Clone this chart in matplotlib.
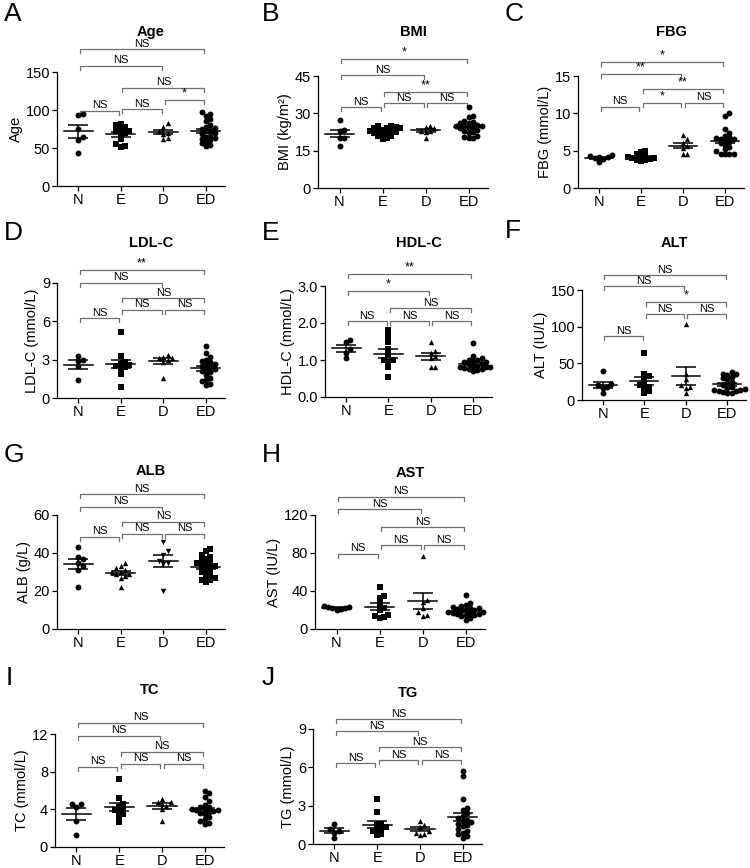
import matplotlib
matplotlib.use("Agg")
import matplotlib.pyplot as plt
import numpy as np

plt.rcParams["font.family"] = ["Liberation Sans", "DejaVu Sans"]

W, H = 750, 868
groups = ["N", "E", "D", "ED"]

# values, one list per group (N, E, D, ED)
age = [[95, 93, 75, 65, 60, 43],
       [82, 80, 78, 75, 73, 72, 70, 68, 62, 55, 52, 51],
       [83, 78, 72, 70, 68, 63, 62],
       [97, 95, 92, 88, 85, 80, 78, 76, 75, 73, 72, 70, 68, 66, 65, 63, 62, 60, 58, 56, 54, 52]]
bmi = [[27.5, 23.5, 23, 20, 20, 17],
       [25, 25, 24.5, 24, 24, 23.5, 23, 23, 22.5, 22, 22, 21.5, 21, 21, 20, 19.5, 23, 24],
       [25, 24.5, 24, 23, 23, 22.5, 20],
       [32.5, 29, 28.5, 27, 26.5, 26, 26, 25.5, 25, 25, 24.5, 24, 24, 23.5, 23, 22.5, 22, 21, 20.5, 20, 20, 25]]
fbg = [[4.4, 4.3, 4.2, 4.1, 4.0, 3.9, 3.5],
       [5.0, 4.8, 4.6, 4.3, 4.2, 4.1, 4.0, 4.0, 3.9, 3.8, 3.7, 3.6],
       [7.1, 6.5, 6.0, 5.6, 5.4, 4.6, 4.5],
       [10.0, 9.6, 7.9, 7.4, 7.0, 6.8, 6.7, 6.6, 6.5, 6.4, 6.2, 6.0, 5.8, 5.5, 5.2, 4.9, 4.6, 4.6, 4.6, 4.6]]
ldl = [[3.3, 3.0, 2.9, 2.5, 1.4],
       [5.2, 3.3, 2.8, 2.7, 2.6, 2.5, 2.4, 2.3, 1.9, 0.9],
       [3.4, 3.2, 3.1, 3.1, 3.0, 2.8, 1.6],
       [4.1, 3.5, 3.2, 3.0, 2.9, 2.8, 2.7, 2.6, 2.5, 2.4, 2.3, 2.2, 2.1, 2.0, 1.8, 1.6, 1.4, 1.3, 1.1, 1.0]]
hdl = [[1.55, 1.5, 1.3, 1.2, 1.05],
       [1.8, 1.65, 1.5, 1.3, 1.15, 1.0, 1.0, 0.95, 0.8, 0.55],
       [1.5, 1.25, 1.2, 1.1, 1.05, 0.8, 0.8],
       [1.45, 1.1, 1.05, 1.0, 1.0, 0.98, 0.95, 0.95, 0.9, 0.88, 0.85, 0.85, 0.8, 0.8, 0.8, 0.78, 0.75, 0.75, 0.72, 0.7]]
alt = [[39, 22, 20, 18, 17, 10],
       [64, 36, 33, 28, 22, 20, 18, 16, 12, 10],
       [103, 35, 28, 20, 18, 17, 10],
       [38, 36, 35, 34, 32, 30, 28, 25, 22, 20, 18, 16, 15, 14, 13, 12, 12, 11, 10, 10]]
alb = [[43, 38, 37, 35, 33, 31, 22],
       [35, 33, 32, 31, 30, 30, 29, 29, 28, 27, 22],
       [46, 41, 39, 36, 35, 34, 20],
       [42, 41, 39, 38, 37, 36, 35, 35, 34, 33, 33, 32, 31, 30, 29, 28, 27, 26, 26, 25]]
ast = [[24, 23, 23, 22, 22, 21, 20],
       [44, 35, 33, 26, 22, 20, 15, 14, 13, 12],
       [77, 31, 28, 22, 18, 15, 14],
       [36, 27, 25, 24, 23, 22, 22, 21, 20, 20, 19, 18, 18, 17, 17, 16, 16, 15, 15, 14, 12, 10]]
tc = [[4.6, 4.6, 4.2, 2.8, 1.3],
      [7.2, 5.2, 4.6, 4.3, 4.0, 3.9, 3.8, 3.5, 3.2, 2.7],
      [5.1, 4.8, 4.8, 4.6, 4.4, 4.0, 2.8],
      [6.0, 5.7, 5.3, 4.9, 4.5, 4.3, 4.2, 4.0, 4.0, 3.9, 3.9, 3.8, 3.7, 3.6, 3.5, 3.2, 3.0, 2.8, 2.6, 2.4]]
tg = [[1.6, 1.2, 1.0, 0.9, 0.5],
      [3.5, 2.5, 1.6, 1.5, 1.3, 1.2, 1.1, 1.0, 0.8, 0.7],
      [1.8, 1.5, 1.3, 1.0, 0.9, 0.8, 0.7],
      [5.7, 5.3, 3.5, 2.8, 2.7, 2.4, 2.2, 2.0, 1.9, 1.8, 1.7, 1.6, 1.5, 1.4, 1.2, 1.0, 0.9, 0.8, 0.6, 0.5]]

# comparisons: N-E, E-D, D-ED, E-ED, N-D, N-ED
pairs = [(0, 1), (1, 2), (2, 3), (1, 3), (0, 2), (0, 3)]
all_ns = ["NS"] * 6
sig_age = ["NS", "NS", "*", "NS", "NS", "NS"]
sig_bmi = ["NS", "NS", "NS", "**", "NS", "*"]
sig_fbg = ["NS", "*", "NS", "**", "**", "*"]
sig_ldl = ["NS", "NS", "NS", "NS", "NS", "**"]
sig_hdl = ["NS", "NS", "NS", "NS", "*", "**"]
sig_alt = ["NS", "NS", "NS", "*", "NS", "NS"]

# panel layout: letter, title, ylabel, data, sig, yticks, markers,
# bracket heights, (spine x px, zero y px, top tick y px, right px)
panels = [
    ("A", "Age", "Age", age, sig_age, [0, 50, 100, 150], "osbo",
     [99, 101, 113, 129, 158, 180], (57, 186, 72, 225)),
    ("B", "BMI", "BMI (kg/m²)", bmi, sig_bmi, [0, 15, 30, 45], "osbo",
     [32.5, 34, 34, 38.5, 45.3, 51.8], (318, 188, 76, 488)),
    ("C", "FBG", "FBG (mmol/L)", fbg, sig_fbg, [0, 5, 10, 15], "osbo",
     [10.9, 11.4, 11.4, 13.2, 15.3, 16.9], (578, 188, 76, 744)),
    ("D", "LDL-C", "LDL-C (mmol/L)", ldl, sig_ldl, [0, 3, 6, 9], "osbo",
     [6.25, 6.9, 6.9, 7.8, 9.0, 10.0], (57, 398, 283, 225)),
    ("E", "HDL-C", "HDL-C (mmol/L)", hdl, sig_hdl, [0.0, 1.0, 2.0, 3.0], "osbo",
     [2.05, 2.05, 2.05, 2.4, 2.86, 3.32], (325, 397, 286, 492)),
    ("F", "ALT", "ALT (IU/L)", alt, sig_alt, [0, 50, 100, 150], "osbo",
     [87, 117, 117, 134, 155, 170], (582, 400, 290, 746)),
    ("G", "ALB", "ALB (g/L)", alb, all_ns, [0, 20, 40, 60], "obvs",
     [48.4, 50, 50, 56.3, 64.2, 71], (57, 629, 515, 225)),
    ("H", "AST", "AST (IU/L)", ast, all_ns, [0, 40, 80, 120], "osbo",
     [79, 88, 88, 107, 126, 139], (315, 629, 515, 485)),
    ("I", "TC", "TC (mmol/L)", tc, all_ns, [0, 4, 8, 12], "osbo",
     [8.5, 8.84, 8.84, 10.1, 11.8, 13.2], (55, 847, 734, 224)),
    ("J", "TG", "TG (mmol/L)", tg, all_ns, [0, 3, 6, 9], "osbo",
     [6.33, 6.56, 6.56, 7.58, 8.83, 9.77], (313, 844, 729, 482)),
]
letter_pos = {"A": (4, 14), "B": (262, 14), "C": (505, 14), "D": (4, 233),
              "E": (262, 233), "F": (505, 231), "G": (4, 455), "H": (262, 455),
              "I": (6, 678), "J": (262, 678)}
title_y = {"A": 32, "B": 32, "C": 32, "D": 243, "E": 243, "F": 243,
           "G": 471, "H": 473, "I": 690, "J": 693}
MARK = {"o": "o", "s": "s", "b": "^", "v": "v"}
XMIN, XMAX = -0.5, 3.45
GRAY = "#707070"


def swarm(vals, ppu, upx, diam=5.4, max_off=19):
    """Beeswarm-ish layout: horizontal offsets (data units), kept within max_off px."""
    order = np.argsort(vals)
    placed = []
    offs = np.zeros(len(vals))
    step = diam * 0.8
    cands = [0]
    k = 1
    while k * step <= max_off:
        cands += [k * step, -k * step]
        k += 1
    for idx in order:
        y = vals[idx] * ppu
        best, best_d = 0, -1
        for x in cands:
            d = min([np.hypot(x - px, y - py) for px, py in placed] or [99])
            if d >= diam * 0.8:
                best = x
                break
            if d > best_d:
                best, best_d = x, d
        placed.append((best, y))
        offs[idx] = best / upx
    return offs


fig = plt.figure(figsize=(W / 100, H / 100), dpi=100)

for letter, title, ylabel, data, sig, yticks, marks, heights, box in panels:
    x0, y0, ytop, x1 = box
    ax = fig.add_axes([x0 / W, 1 - y0 / H, (x1 - x0) / W, (y0 - ytop) / H])
    top = yticks[-1]
    ax.set_xlim(XMIN, XMAX)
    ax.set_ylim(0, top)
    ppu = (y0 - ytop) / top
    upx = (x1 - x0) / (XMAX - XMIN)

    for i, vals in enumerate(data):
        vals = np.asarray(vals, dtype=float)
        xs = i + swarm(vals, ppu, upx)
        ax.scatter(xs, vals, marker=MARK[marks[i]], s=18 if marks[i] == "o" else 15,
                   color="black", linewidths=0, zorder=3, clip_on=False)
        m = vals.mean()
        sem = vals.std(ddof=1) / np.sqrt(len(vals))
        ax.plot([i - 0.34, i + 0.34], [m, m], color="black", lw=1.1, zorder=4)
        ax.errorbar(i, m, yerr=sem, fmt="none", ecolor="black", elinewidth=1.1,
                    capsize=7, capthick=1.1, zorder=4)

    tick = 4 / ppu
    for (a, b), h, lab in zip(pairs, heights, sig):
        xa, xb = a + 0.04, b - 0.04
        ax.plot([xa, xa, xb, xb], [h - tick, h, h, h - tick], color=GRAY, lw=0.9,
                clip_on=False, zorder=2)
        ax.text((a + b) / 2, h + 0.6 / ppu, lab, ha="center", va="bottom",
                fontsize=8 if lab == "NS" else 9, color="black", clip_on=False)

    ax.set_xticks(range(4))
    ax.set_xticklabels(groups)
    ax.set_yticks(yticks)
    if letter == "E":
        ax.set_yticklabels([f"{t:.1f}" for t in yticks])
    ax.tick_params(labelsize=10.5, length=3.5, width=0.9, pad=1.5, color="black")
    ax.set_ylabel(ylabel, fontsize=10.5, labelpad=2)
    for s in ["top", "right"]:
        ax.spines[s].set_visible(False)
    for s in ["left", "bottom"]:
        ax.spines[s].set_linewidth(0.9)

    fig.text((x0 + x1 + 20) / 2 / W, 1 - title_y[letter] / H, title,
             ha="center", va="center", fontsize=10.5, fontweight="bold")
    lx, ly = letter_pos[letter]
    fig.text(lx / W, 1 - ly / H, letter, ha="left", va="center", fontsize=19)

fig.savefig("out.png", dpi=100, facecolor="white")
